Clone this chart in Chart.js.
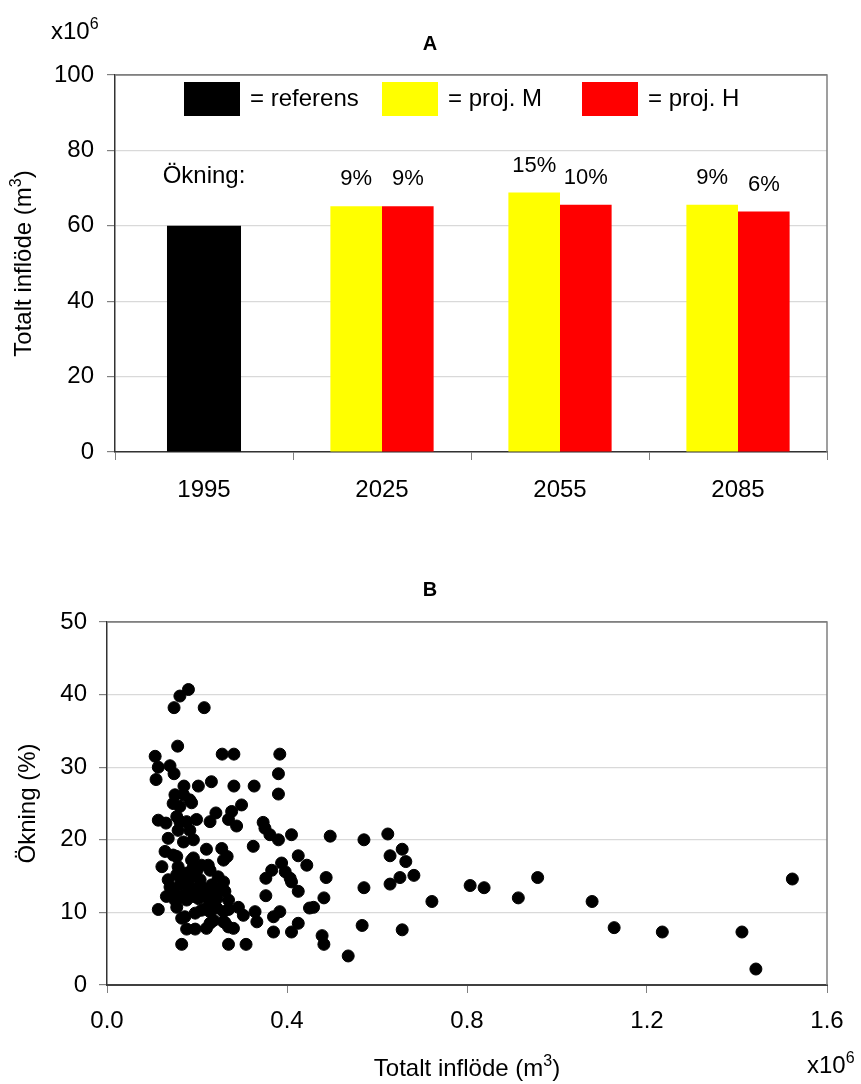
<!DOCTYPE html>
<html>
<head>
<meta charset="utf-8">
<script src="https://cdn.jsdelivr.net/npm/chart.js@4.4.0/dist/chart.umd.min.js"></script>
<style>
  body { margin: 0; background: #fff; }
  #wrapA { position: absolute; left: 0; top: 0; width: 861px; height: 540px; }
  #wrapB { position: absolute; left: 0; top: 540px; width: 861px; height: 544px; }
</style>
</head>
<body>
<div id="wrapA"><canvas id="barChart"></canvas></div>
<div id="wrapB"><canvas id="scatterChart"></canvas></div>
<script>
// A: total inflow per period (x10^6 m3)
const years = ['1995', '2025', '2055', '2085'];
const referens = [60, null, null, null];
const projM = [null, 65.2, 68.8, 65.6];
const projH = [null, 65.2, 65.6, 63.8];
const okningM = ['', '9%', '15%', '9%'];
const okningH = ['', '9%', '10%', '6%'];

// B: inflow (x10^6 m3) vs increase (%)
const inflode = [
  0.181, 0.162, 0.149, 0.216, 0.157, 0.107, 0.114, 0.109, 0.140, 0.149,
  0.256, 0.282, 0.384, 0.381, 0.381, 0.171, 0.203, 0.232, 0.282, 0.327,
  0.151, 0.170, 0.147, 0.184, 0.188, 0.162, 0.299, 0.277, 0.242, 0.114,
  0.131, 0.155, 0.162, 0.177, 0.199, 0.229, 0.270, 0.288, 0.347, 0.351,
  0.158, 0.184, 0.136, 0.170, 0.192, 0.221, 0.255, 0.267, 0.259, 0.325,
  0.129, 0.147, 0.192, 0.210, 0.122, 0.158, 0.362, 0.381, 0.410, 0.425,
  0.444, 0.155, 0.188, 0.225, 0.136, 0.155, 0.173, 0.188, 0.207, 0.162,
  0.181, 0.199, 0.147, 0.170, 0.192, 0.229, 0.247, 0.259, 0.233, 0.237,
  0.251, 0.262, 0.270, 0.244, 0.229, 0.132, 0.151, 0.177, 0.203, 0.218,
  0.114, 0.155, 0.173, 0.166, 0.196, 0.210, 0.221, 0.229, 0.244, 0.259,
  0.270, 0.292, 0.303, 0.329, 0.333, 0.177, 0.196, 0.221, 0.229, 0.259,
  0.270, 0.281, 0.370, 0.384, 0.370, 0.410, 0.425, 0.166, 0.270, 0.309,
  0.353, 0.366, 0.388, 0.396, 0.407, 0.410, 0.353, 0.425, 0.450, 0.496,
  0.571, 0.624, 0.487, 0.482, 0.571, 0.629, 0.656, 0.664, 0.629, 0.651,
  0.682, 0.722, 0.807, 0.478, 0.482, 0.567, 0.656, 0.536, 0.838, 0.914,
  0.957, 1.078, 1.127, 1.234, 1.411, 1.442, 1.523, 0.237, 0.262, 0.459,
  0.178, 0.165, 0.185, 0.200, 0.140, 0.215, 0.160, 0.190
];
const okning = [
  40.7, 39.8, 38.2, 38.2, 32.9, 31.5, 30.0, 28.3, 30.2, 29.1,
  31.8, 31.8, 31.8, 29.1, 26.3, 27.4, 27.4, 28.0, 27.4, 27.4,
  26.2, 26.2, 25.0, 25.5, 25.1, 24.6, 24.8, 23.9, 23.7, 22.7,
  22.3, 23.2, 22.5, 22.5, 22.8, 22.5, 22.8, 21.9, 22.4, 21.6,
  21.3, 21.3, 20.2, 19.7, 20.0, 18.7, 18.8, 17.7, 17.2, 19.1,
  18.4, 17.9, 17.5, 16.5, 16.3, 16.3, 20.7, 20.0, 20.7, 17.8,
  16.5, 17.7, 17.2, 16.5, 14.5, 15.2, 15.4, 14.9, 14.5, 13.8,
  13.8, 13.3, 12.9, 12.4, 12.2, 15.8, 14.9, 14.2, 13.8, 13.1,
  13.3, 12.9, 11.7, 11.9, 11.7, 12.2, 11.7, 11.7, 11.9, 12.2,
  10.4, 10.7, 9.4, 9.2, 9.9, 10.3, 10.6, 10.1, 10.6, 10.1,
  10.4, 10.7, 9.6, 10.1, 8.7, 7.7, 7.7, 7.8, 8.5, 8.7,
  8.0, 7.8, 9.4, 10.1, 7.3, 7.3, 8.5, 5.6, 5.6, 5.6,
  14.7, 15.8, 16.8, 15.6, 14.7, 14.2, 12.3, 12.9, 10.6, 20.5,
  20.0, 20.8, 14.8, 12.0, 13.4, 17.8, 18.7, 17.0, 13.9, 14.8,
  15.1, 11.5, 13.7, 6.8, 5.6, 8.2, 7.6, 4.0, 13.4, 12.0,
  14.8, 11.5, 7.9, 7.3, 7.3, 2.2, 14.6, 8.9, 8.6, 10.7,
  14.6, 15.0, 12.9, 15.8, 13.5, 13.3, 12.0, 16.0
];

const FONT = '"Liberation Sans", Arial, sans-serif';
Chart.defaults.font.family = FONT;
Chart.defaults.font.size = 24;
Chart.defaults.color = '#000';

const LIGHT = '#d9d9d9';
const DARK = '#808080';

// top and right frame lines of the plot area
function drawFrame(chart) {
  const {ctx, chartArea: ca} = chart;
  ctx.save();
  ctx.strokeStyle = DARK;
  ctx.lineWidth = 1.5;
  ctx.beginPath();
  ctx.moveTo(ca.left, ca.top);
  ctx.lineTo(ca.right, ca.top);
  ctx.lineTo(ca.right, ca.bottom);
  ctx.stroke();
  ctx.restore();
}

// text with a superscript part, centred on (cx, cy), optionally rotated
function drawSupText(ctx, pre, sup, post, cx, cy, rotated) {
  ctx.save();
  ctx.translate(cx, cy);
  if (rotated) ctx.rotate(-Math.PI / 2);
  const big = '24px ' + FONT, small = '16px ' + FONT;
  ctx.font = big;
  const w1 = ctx.measureText(pre).width, w3 = ctx.measureText(post).width;
  ctx.font = small;
  const w2 = ctx.measureText(sup).width;
  let x = -(w1 + w2 + w3) / 2;
  ctx.textAlign = 'left';
  ctx.textBaseline = 'alphabetic';
  const base = 8;
  ctx.font = big;
  ctx.fillText(pre, x, base);
  ctx.font = small;
  ctx.fillText(sup, x + w1, base - 10);
  ctx.font = big;
  ctx.fillText(post, x + w1 + w2, base);
  ctx.restore();
}

function drawPower(ctx, x, y) {
  ctx.textAlign = 'left';
  ctx.textBaseline = 'alphabetic';
  ctx.font = '24px ' + FONT;
  ctx.fillText('x10', x, y);
  const w = ctx.measureText('x10').width;
  ctx.font = '16px ' + FONT;
  ctx.fillText('6', x + w, y - 10);
}

const barDecor = {
  id: 'barDecor',
  afterDatasetsDraw(chart) {
    const {ctx, chartArea: ca} = chart;
    drawFrame(chart);
    ctx.save();
    ctx.fillStyle = '#000';

    // legend inside plot area
    const legendX = [69, 267, 467];
    chart.data.datasets.forEach((ds, i) => {
      const bx = ca.left + legendX[i];
      const by = ca.top + 7;
      ctx.fillStyle = ds.backgroundColor;
      ctx.fillRect(bx, by, 56, 34);
      ctx.fillStyle = '#000';
      ctx.font = '24px ' + FONT;
      ctx.textAlign = 'left';
      ctx.textBaseline = 'middle';
      ctx.fillText('= ' + ds.label, bx + 66, by + 17);
    });

    // percentage labels above bars
    ctx.font = '22px ' + FONT;
    ctx.textAlign = 'center';
    ctx.textBaseline = 'middle';
    [[1, okningM], [2, okningH]].forEach(([di, txt]) => {
      chart.getDatasetMeta(di).data.forEach((bar, i) => {
        if (txt[i]) ctx.fillText(txt[i], bar.x, bar.y - 27);
      });
    });
    ctx.font = '24px ' + FONT;
    const ref = chart.getDatasetMeta(0).data[0];
    ctx.fillText('Ökning:', ref.x, ref.y - 49);

    // title, unit and axis title
    ctx.font = 'bold 20px ' + FONT;
    ctx.fillText('A', 430, 44);
    drawPower(ctx, 51, 39);
    drawSupText(ctx, 'Totalt inflöde (m', '3', ')', 23, (ca.top + ca.bottom) / 2, true);
    ctx.restore();
  }
};

const scatterDecor = {
  id: 'scatterDecor',
  afterDraw(chart) {
    const {ctx, chartArea: ca} = chart;
    drawFrame(chart);
    ctx.save();
    ctx.fillStyle = '#000';
    ctx.font = 'bold 20px ' + FONT;
    ctx.textAlign = 'center';
    ctx.textBaseline = 'middle';
    ctx.fillText('B', 430, 50);
    drawPower(ctx, 807, 533);
    drawSupText(ctx, 'Totalt inflöde (m', '3', ')', (ca.left + ca.right) / 2, 528, false);
    ctx.restore();
  }
};

// Bar chart A
new Chart(document.getElementById('barChart'), {
  type: 'bar',
  data: {
    labels: years,
    datasets: [
      { label: 'referens', data: referens, backgroundColor: '#000000', barPercentage: 0.717 },
      { label: 'proj. M', data: projM, backgroundColor: '#ffff00', barPercentage: 1 },
      { label: 'proj. H', data: projH, backgroundColor: '#ff0000', barPercentage: 1 }
    ]
  },
  options: {
    responsive: true,
    maintainAspectRatio: false,
    animation: false,
    skipNull: true,
    categoryPercentage: 0.58,
    layout: { padding: { top: 75, right: 34, left: 0, bottom: 0 } },
    plugins: { legend: { display: false }, tooltip: { enabled: false } },
    scales: {
      x: {
        afterFit(s) { s.height = 88; },
        border: { color: '#333', width: 1.5 },
        grid: { drawOnChartArea: false, offset: true, tickLength: 8, color: DARK, tickColor: DARK },
        ticks: { padding: 16 }
      },
      y: {
        min: 0, max: 100,
        afterFit(s) { s.width = 115; },
        border: { color: '#333', width: 1.5 },
        grid: {
          color: c => (c.tick && c.tick.value === 100 ? DARK : LIGHT),
          tickColor: DARK, tickLength: 8, lineWidth: 1.2
        },
        ticks: { stepSize: 20, padding: 13 }
      }
    }
  },
  plugins: [barDecor]
});

// Scatter chart B
new Chart(document.getElementById('scatterChart'), {
  type: 'scatter',
  data: {
    datasets: [{
      label: 'Ökning',
      data: inflode.map((x, i) => ({ x: x, y: okning[i] })),
      backgroundColor: '#000',
      borderColor: '#000',
      pointRadius: 6,
      pointHoverRadius: 6
    }]
  },
  options: {
    responsive: true,
    maintainAspectRatio: false,
    animation: false,
    layout: { padding: { top: 82, right: 34, left: 0, bottom: 0 } },
    plugins: { legend: { display: false }, tooltip: { enabled: false } },
    scales: {
      x: {
        type: 'linear',
        min: 0, max: 1.6,
        afterFit(s) { s.height = 99; },
        border: { color: '#404040', width: 2 },
        grid: { drawOnChartArea: false, tickLength: 8, color: DARK, tickColor: DARK },
        ticks: { stepSize: 0.4, padding: 14, callback: v => v.toFixed(1) }
      },
      y: {
        min: 0, max: 50,
        afterFit(s) { s.width = 107; },
        border: { color: '#333', width: 1.5 },
        grid: {
          color: c => (c.tick && c.tick.value === 50 ? DARK : LIGHT),
          tickColor: DARK, tickLength: 8, lineWidth: 1.2
        },
        ticks: { stepSize: 10, padding: 12 },
        title: { display: true, text: 'Ökning (%)', padding: { top: 14, bottom: 0 } }
      }
    }
  },
  plugins: [scatterDecor]
});
</script>
</body>
</html>
